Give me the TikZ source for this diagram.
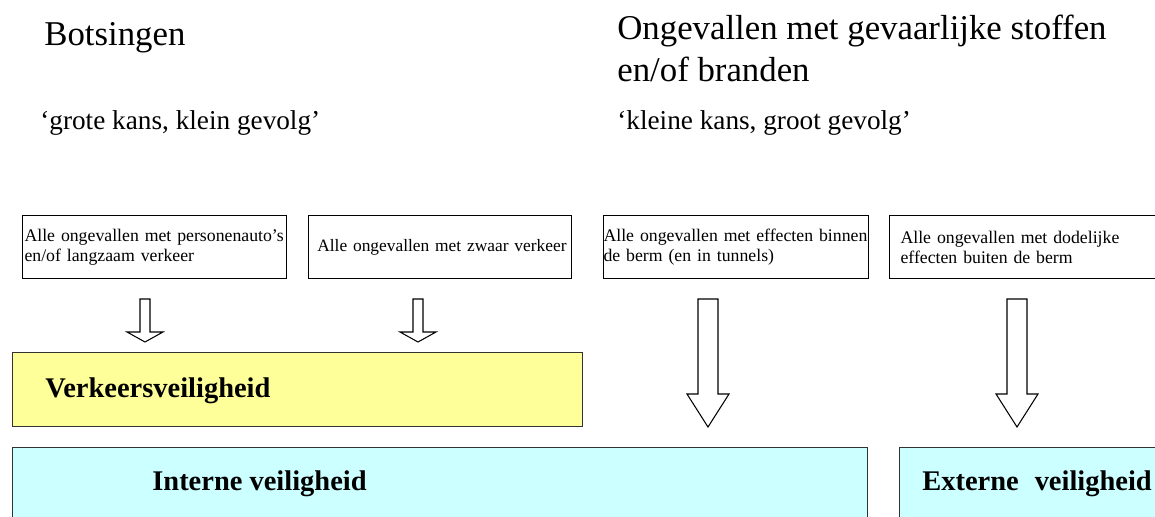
\documentclass[tikz,border=0pt]{standalone}
\usepackage{fontspec}
\setmainfont{Liberation Serif}
\usetikzlibrary{positioning}

\definecolor{vvyellow}{RGB}{255,255,153}
\definecolor{vvcyan}{RGB}{204,255,255}

% start, half shaft, head overhang, shaft length, head length
\newcommand{\hollowarrow}[5]{%
\draw[hollow arrow] (#1) ++(-#2,0) -- ++(0,-#4) -- ++(-#3,0) -- ++(#2+#3,-#5) -- ++(#2+#3,#5) -- ++(-#3,0) -- ++(0,#4) -- cycle;}

\begin{document}
\begin{tikzpicture}[case/.style={draw=black,line width=0.6pt,anchor=north west,minimum height=1.26cm,inner ysep=0pt,align=left,font=\fontsize{10.1}{11.4}\selectfont},zone/.style={draw=black!80,line width=0.6pt,anchor=north west,inner sep=0pt},hollow arrow/.style={draw=black,line width=0.6pt,fill=white,line join=miter},heading/.style={inner sep=0pt,align=left,font=\fontsize{19.8}{23.8}\selectfont},motto/.style={anchor=base west,inner sep=0pt,font=\fontsize{15.5}{18}\selectfont},zonename/.style={anchor=base west,inner sep=0pt,font=\fontsize{16.2}{18}\selectfont\bfseries}]
\useasboundingbox (0,0) rectangle (23.1,-10.34);
\begin{scope}
\node[heading,anchor=base west] (botsing) at (0.88,-0.92) {Botsingen};
\node[heading,anchor=north west] (gevaar) at (12.34,-0.30) {Ongevallen met gevaarlijke stoffen\\en/of branden};
\node[motto] (mbots) at (0.80,-2.60) {‘grote kans, klein gevolg’};
\node[motto] (mgev) at (12.34,-2.60) {‘kleine kans, groot gevolg’};
\end{scope}
\begin{scope}
\node[case,minimum width=5.28cm,text width=5.2cm,inner xsep=0.04cm] (auto) at (0.44,-4.30) {Alle ongevallen met personenauto’s\\en/of langzaam verkeer};
\node[case,minimum width=5.26cm,text width=5.06cm,inner xsep=0.1cm,align=right,font=\fontsize{9.9}{11.4}\selectfont] (zwaar) at (6.16,-4.30) {Alle ongevallen met zwaar verkeer};
\node[case,minimum width=5.28cm,text width=5.3cm,inner xsep=0pt] (berm) at (12.06,-4.30) {Alle ongevallen met effecten binnen\\de berm (en in tunnels)};
\node[case,minimum width=5.6cm,text width=5.2cm,inner xsep=0.22cm] (buiten) at (17.78,-4.30) {Alle ongevallen met dodelijke\\effecten buiten de berm};
\end{scope}
\begin{scope}
\node[zone,fill=vvyellow,minimum width=11.4cm,minimum height=1.48cm] (verkeer) at (0.24,-7.04) {};
\node[zone,fill=vvcyan,minimum width=17.1cm,minimum height=2cm] (intern) at (0.24,-8.94) {};
\node[zone,fill=vvcyan,minimum width=5.5cm,minimum height=2cm] (extern) at (17.98,-8.94) {};
\node[zonename] (lverkeer) at (0.90,-7.94) {Verkeersveiligheid};
\node[zonename] (lintern) at (3.04,-9.80) {Interne veiligheid};
\node[zonename] (lextern) at (18.44,-9.80) {Externe\hspace{0.56em}veiligheid};
\end{scope}
\begin{scope}
\coordinate (a1) at (2.90,-5.98);
\coordinate (a2) at (8.36,-5.98);
\coordinate (a3) at (14.16,-5.98);
\coordinate (a4) at (20.34,-5.98);
\hollowarrow{a1}{0.1}{0.26}{0.66}{0.2}
\hollowarrow{a2}{0.1}{0.26}{0.66}{0.2}
\hollowarrow{a3}{0.2}{0.22}{1.9}{0.66}
\hollowarrow{a4}{0.2}{0.22}{1.9}{0.66}
\end{scope}
\end{tikzpicture}
\end{document}
